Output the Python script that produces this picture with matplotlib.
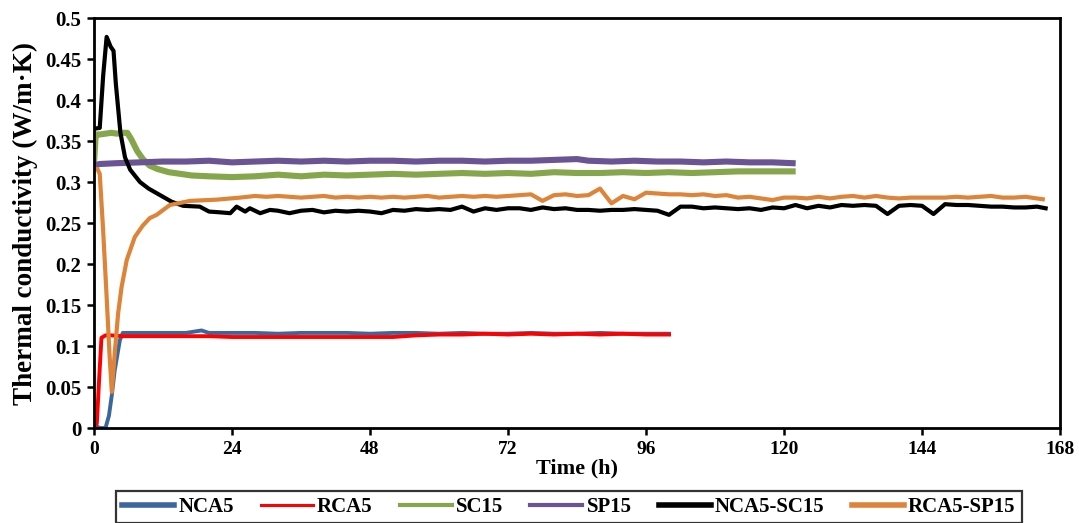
import numpy as np
import matplotlib
matplotlib.use('Agg')
import matplotlib.pyplot as plt
from matplotlib.ticker import FuncFormatter

# Datos (tiempo en h, conductividad en W/m.K)
t_nca5 = [0, 0.5, 1.0, 2.0, 2.6, 3.1, 3.6, 4.5, 5.0, 8, 12, 16, 18.7, 20] + list(range(24, 101, 4))
k_nca5 = [0.013, 0.002, 0.0, 0.0, 0.015, 0.04, 0.07, 0.107, 0.116, 0.116, 0.116, 0.116, 0.119, 0.116,
          0.116, 0.116, 0.115, 0.116, 0.116, 0.116, 0.115, 0.116, 0.116, 0.115,
          0.116, 0.115, 0.115, 0.116, 0.115, 0.115, 0.116, 0.115, 0.115, 0.115]

t_rca5 = [0, 0.5, 0.9, 1.3, 2.0, 3.0, 5.0] + list(range(8, 101, 4))
k_rca5 = [0.0, 0.006, 0.06, 0.11, 0.113, 0.113, 0.112,
          0.112, 0.112, 0.112, 0.112,
          0.111, 0.111, 0.111, 0.111, 0.111, 0.111, 0.111, 0.111,
          0.113, 0.114, 0.114, 0.115, 0.114, 0.115, 0.114, 0.115, 0.114, 0.115, 0.114, 0.114]

t_sc15 = [0, 0.3, 1, 2, 3, 4, 5, 5.8, 6.5, 7.5, 8.5, 9.7, 11, 13, 15, 17, 20] + list(range(24, 121, 4)) + [121.5]
k_sc15 = [0.322, 0.358, 0.358, 0.359, 0.360, 0.359, 0.360, 0.360, 0.352, 0.338, 0.328, 0.320, 0.316,
          0.312, 0.310, 0.308, 0.307,
          0.306, 0.307, 0.309, 0.307, 0.309, 0.308, 0.309, 0.310, 0.309, 0.310, 0.311, 0.310, 0.311,
          0.310, 0.312, 0.311, 0.311, 0.312, 0.311, 0.312, 0.311, 0.312, 0.313, 0.313, 0.313, 0.313]

t_sp15 = [0, 1, 4, 8, 12, 16, 20, 24, 28, 32, 36, 40, 44, 48, 52, 56, 60, 64, 68, 72, 76, 80, 84, 86,
          90, 94, 98, 102, 106, 110, 114, 118, 121.5]
k_sp15 = [0.320, 0.322, 0.323, 0.324, 0.325, 0.325, 0.326, 0.324, 0.325, 0.326, 0.325, 0.326, 0.325,
          0.326, 0.326, 0.325, 0.326, 0.326, 0.325, 0.326, 0.326, 0.327, 0.328, 0.326, 0.325, 0.326,
          0.325, 0.325, 0.324, 0.325, 0.324, 0.324, 0.323]

t_nca5_sc15 = [0, 1.0, 1.6, 2.2, 2.9, 3.4, 3.8, 4.2, 4.6, 5.4, 6.3, 8, 9.5, 11, 12.5, 13.5, 15.5, 18.4,
               20, 22, 23.7, 24.8, 26.3, 27.1, 28.9, 30.6, 32, 34] + list(range(36, 165, 2)) + [165.5]
k_nca5_sc15 = [0.365, 0.366, 0.43, 0.477, 0.465, 0.46, 0.42, 0.39, 0.36, 0.33, 0.315, 0.30, 0.292,
               0.286, 0.28, 0.276, 0.271, 0.270, 0.264, 0.263, 0.262, 0.270, 0.264, 0.268, 0.262,
               0.266, 0.265, 0.262,
               0.265, 0.266, 0.263, 0.265, 0.264, 0.265, 0.264, 0.262, 0.266, 0.265, 0.267, 0.266,
               0.267, 0.266, 0.270, 0.264, 0.268, 0.266, 0.268, 0.268, 0.266, 0.269, 0.267, 0.268,
               0.266, 0.266, 0.265, 0.266, 0.266, 0.267, 0.266, 0.265, 0.260, 0.270, 0.270, 0.268,
               0.269, 0.268, 0.267, 0.268, 0.266, 0.269, 0.268, 0.272, 0.268, 0.271, 0.269, 0.272,
               0.271, 0.272, 0.271, 0.261, 0.271, 0.272, 0.271, 0.261, 0.273, 0.272, 0.272, 0.271,
               0.270, 0.270, 0.269, 0.269, 0.270,
               0.268]

t_rca5_sp15 = [0, 0.6, 1.0, 1.6, 2.2, 2.7, 3.1, 3.65, 4.2, 4.8, 5.7, 7.1, 8.5, 9.7, 10.9, 13.2, 16.7,
               21.3, 25.4, 28, 30] + list(range(32, 165, 2)) + [165]
k_rca5_sp15 = [0.315, 0.316, 0.31, 0.24, 0.16, 0.09, 0.044, 0.095, 0.14, 0.172, 0.205, 0.233, 0.247,
               0.256, 0.26, 0.272, 0.277, 0.2785, 0.281, 0.283, 0.282,
               0.283, 0.282, 0.281, 0.282, 0.283, 0.281, 0.282, 0.281, 0.282, 0.281, 0.282, 0.281,
               0.282, 0.283, 0.281, 0.282, 0.283, 0.282, 0.283, 0.282, 0.283, 0.284, 0.285, 0.277,
               0.284, 0.285, 0.283, 0.284, 0.292, 0.274, 0.283, 0.279, 0.287, 0.286, 0.285, 0.285,
               0.284, 0.285, 0.283, 0.284, 0.281, 0.282, 0.280, 0.278, 0.281, 0.281, 0.280, 0.282,
               0.280, 0.282, 0.283, 0.281, 0.283, 0.281, 0.280, 0.281, 0.281, 0.281, 0.281, 0.282,
               0.281, 0.282, 0.283, 0.281, 0.281, 0.282, 0.280,
               0.279]

series = [
    ('NCA5', t_nca5, k_nca5, '#3C679E', 2.8, 4.0),
    ('RCA5', t_rca5, k_rca5, '#FF0000', 2.8, 2.2),
    ('SC15', t_sc15, k_sc15, '#86A64B', 4.4, 3.0),
    ('SP15', t_sp15, k_sp15, '#6A5494', 4.4, 3.0),
    ('NCA5-SC15', t_nca5_sc15, k_nca5_sc15, '#000000', 3.0, 4.0),
    ('RCA5-SP15', t_rca5_sp15, k_rca5_sp15, '#DD8439', 3.0, 4.0),
]

plt.rcParams['font.family'] = ['Liberation Serif', 'DejaVu Serif']
plt.rcParams['font.weight'] = 'bold'

fig = plt.figure(figsize=(10.79, 5.23), dpi=100)
ax = fig.add_axes([0.0871, 0.1816, 0.8953, 0.7839])

lines = []
for name, t, k, color, lw, lw_leg in series:
    ln, = ax.plot(t, k, color=color, lw=lw, label=name, solid_joinstyle='round')
    lines.append(ln)

ax.set_xlim(0, 168)
ax.set_ylim(0, 0.5)
ax.set_xticks(np.arange(0, 169, 24))
ax.set_yticks(np.arange(0, 0.501, 0.05))
ax.yaxis.set_major_formatter(FuncFormatter(lambda v, p: f'{v:g}'))
ax.tick_params(axis='both', direction='out', length=5, width=1.8, labelsize=14, pad=4)
ax.tick_params(axis='y', labelsize=15)
for s in ax.spines.values():
    s.set_linewidth(2.0)

ax.set_xlabel('Time (h)', fontsize=16, fontweight='bold', labelpad=1)
ax.set_ylabel('Thermal conductivity (W/m·K)', fontsize=19.5, fontweight='bold', labelpad=5)

leg = fig.legend(handles=lines, loc='upper center', bbox_to_anchor=(0.527, 0.062), ncol=6,
                 fontsize=15, frameon=True, fancybox=False, handlelength=2.5,
                 handletextpad=0.2, columnspacing=1.3, borderpad=0.3, borderaxespad=0)
leg.get_frame().set_edgecolor('black')
leg.get_frame().set_linewidth(1.6)
for hl, s in zip(leg.get_lines(), series):
    hl.set_linewidth(s[5])

fig.savefig('out.png', dpi=100)
